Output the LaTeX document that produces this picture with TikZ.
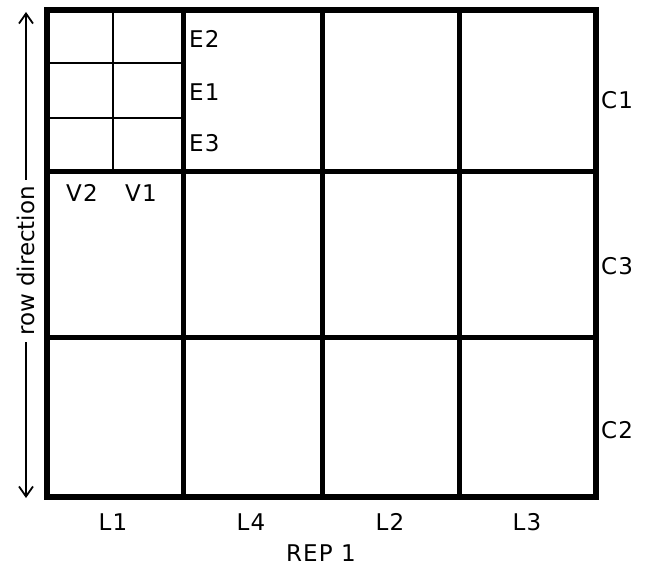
\documentclass[tikz,border=0pt]{standalone}
\usepackage{fontspec}
\setmainfont{DejaVu Sans}
\usetikzlibrary{arrows.meta}
\tikzset{
  plotline/.style={black, line width=5pt},
  subline/.style={black, line width=2.6pt},
  lbl/.style={font=\fontsize{23}{27}\selectfont\addfontfeature{LetterSpace=5}, inner sep=1pt},
  dirarrow/.style={black, line width=1.8pt, -{Straight Barb[length=10pt,width=14pt]}}
}
\begin{document}
\begin{tikzpicture}[x=1pt,y=-1pt]
\useasboundingbox (0,0) rectangle (650,569);

% main plots: 4 lines x 3 columns
\foreach \x in {183,322,459} \draw[plotline] (\x,10) -- (\x,497);
\foreach \y in {172,337} \draw[plotline] (47,\y) -- (596,\y);
\draw[plotline, line width=5.5pt] (47,10) rectangle (596,497);

% subplots in the first plot
\draw[subline] (113,10) -- (113,172);
\foreach \y in {63,118} \draw[subline] (47,\y) -- (183,\y);

% subplot labels
\node[lbl, anchor=west] (e2) at (188,39) {E2};
\node[lbl, anchor=west] (e1) at (188,92) {E1};
\node[lbl, anchor=west] (e3) at (188,143) {E3};
\node[lbl] (v2) at (82,193) {V2};
\node[lbl] (v1) at (141,193) {V1};

% columns
\node[lbl] (c1) at (617,100) {C1};
\node[lbl] (c3) at (617,266) {C3};
\node[lbl] (c2) at (617,430) {C2};

% lines
\node[lbl] (l1) at (113,522) {L1};
\node[lbl] (l4) at (251,522) {L4};
\node[lbl] (l2) at (390,522) {L2};
\node[lbl] (l3) at (527,522) {L3};
\node[lbl] (rep) at (321,553) {REP 1};

% row direction
\node[font=\fontsize{23}{27}\selectfont, rotate=90, inner sep=6pt] (rowdir) at (26,261) {row direction};
\coordinate (rowtop) at (26,12);
\coordinate (rowbot) at (26,498);
\draw[dirarrow] (rowdir.east) -- (rowtop);
\draw[dirarrow] (rowdir.west) -- (rowbot);

\end{tikzpicture}
\end{document}
